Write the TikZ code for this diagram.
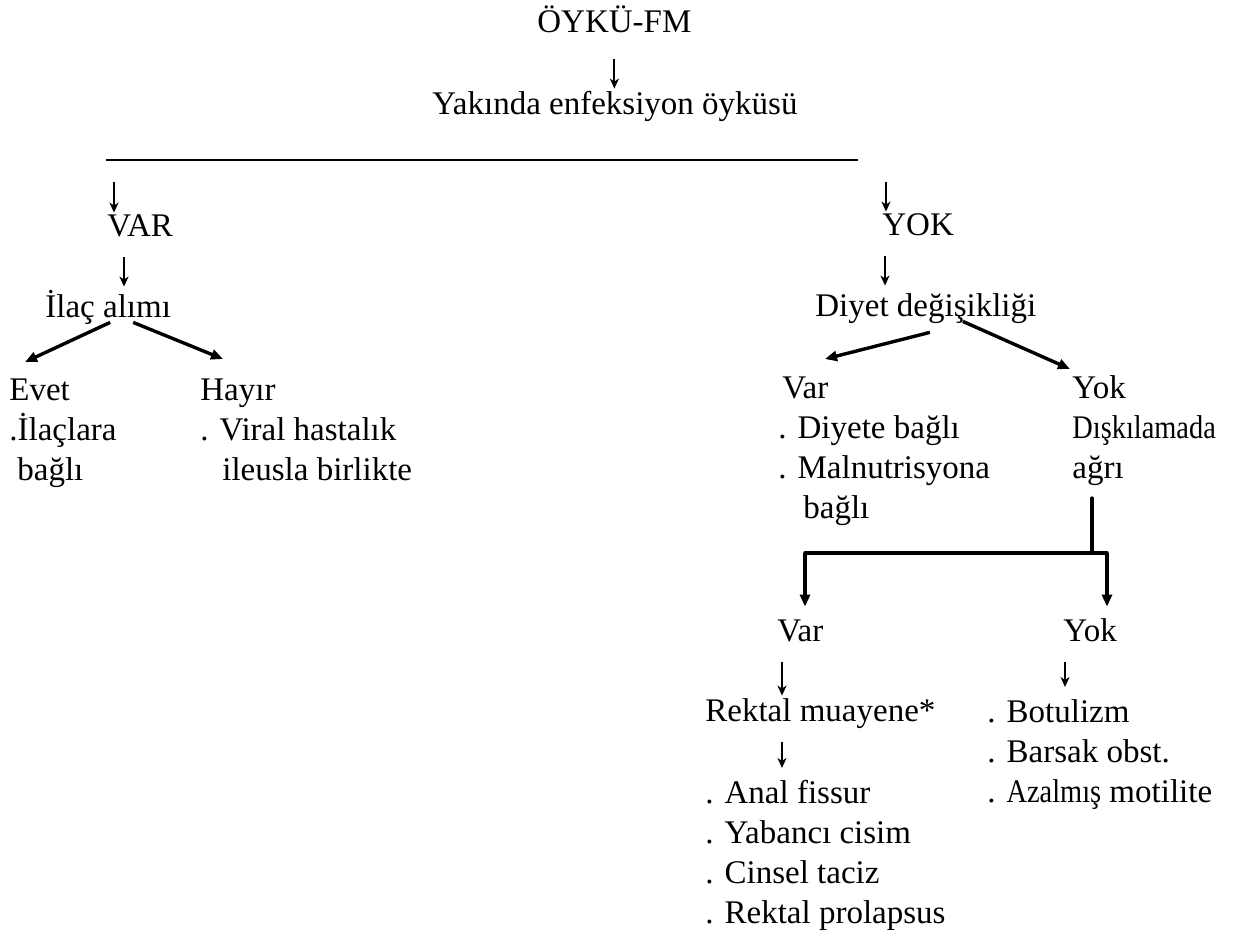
\documentclass[tikz,border=0pt]{standalone}
\usepackage{fontspec}
\setmainfont{Liberation Serif}
\usepackage{graphicx}
\usetikzlibrary{arrows.meta}
\newcommand{\narrow}[1]{\scalebox{0.86}[1]{#1}}
\newcommand{\topline}{\rule{0pt}{0.7em}}

\begin{document}
\begin{tikzpicture}[x=0.5pt,y=-0.5pt,
  every node/.style={font=\fontsize{16.5}{20}\selectfont, inner sep=0pt, anchor=base west, align=left},
  lbl/.style={text height=0.7em, text depth=0.2em},
  lst/.style={anchor=north west},
  down/.style={-{Stealth[length=5pt,width=4.5pt,inset=1.5pt]}, line width=1pt, shorten <=8pt, shorten >=6pt},
  branch/.style={-{Triangle[length=6pt,width=5pt]}, line width=1.7pt},
  bar/.style={line width=1.7pt, line cap=round}]

\useasboundingbox (0,0) rectangle (1233,940);

% top
\node[lbl] (oyku) at (537,33) {ÖYKÜ-FM};
\node[lbl] (yakin) at (432,115) {Yakında enfeksiyon öyküsü};
\draw[down, shorten <=11pt] (oyku.south) -- (oyku.south |- yakin.north);

\coordinate (hl) at (106,160);
\coordinate (hr) at (858,160);
\draw[line width=1pt] (hl) -- (hr);

% left branch
\node[lbl] (var) at (107,237) {VAR};
\node[lbl] (ilac) at (45,318) {İlaç alımı};
\node[lst] (evet) at (9,377) {\topline Evet\\.İlaçlara\\\hspace*{4pt}bağlı};
\node[lst] (hayir) at (200,377) {\topline Hayır\\. Viral hastalık\\\hspace*{11pt}ileusla birlikte};

\draw[down, shorten <=11pt, shorten >=5pt] ([xshift=3.5pt]var.north west |- hl) -- ([xshift=3.5pt]var.north west);
\draw[down, shorten >=8.5pt] ([xshift=8.5pt]var.south west) -- ([xshift=8.5pt]var.south west |- ilac.north);
\draw[branch] ([xshift=1pt]ilac.south) -- ([xshift=8pt,yshift=7.5pt]evet.north west);
\draw[branch] ([xshift=12.5pt]ilac.south) -- ([xshift=11.5pt,yshift=9pt]hayir.north west);

% right branch
\node[lbl] (yok) at (882,236) {YOK};
\node[lbl] (diyet) at (815,317) {Diyet değişikliği};
\node[lst] (var2) at (778,375) {\topline\hspace*{2pt}Var\\. Diyete bağlı\\. Malnutrisyona\\\hspace*{12.5pt}bağlı};
\node[lst] (yok2) at (1072,375) {\topline Yok\\\narrow{Dışkılamada}\\ağrı};

\draw[down, shorten <=11pt, shorten >=5pt] ([xshift=2pt]yok.north west |- hl) -- ([xshift=2pt]yok.north west);
\draw[down, shorten >=8.5pt] ([xshift=1.5pt]yok.south west) -- ([xshift=1.5pt]yok.south west |- diyet.north);
\draw[branch] ([xshift=2pt,yshift=-5.5pt]diyet.south) -- ([xshift=23.5pt,yshift=8pt]var2.north west);
\draw[branch] ([xshift=18.5pt]diyet.south) -- ([xshift=-1pt,yshift=3pt]yok2.north west);

% painful defecation
\coordinate (jl) at (805,553);
\coordinate (jr) at (1107,553);
\draw[bar] ([xshift=10pt,yshift=-6pt]yok2.south west) -- ([xshift=10pt]yok2.south west |- jl);
\draw[bar] (jl) -- (jr);

\node[lbl] (var3) at (777,642) {Var};
\node[lbl] (rektal) at (705,722) {Rektal muayene*};
\node[lst] (nedenA) at (705,780) {\topline . Anal fissur\\. Yabancı cisim\\. Cinsel taciz\\. Rektal prolapsus};
\node[lbl] (yok3) at (1063,642) {Yok};
\node[lst] (nedenB) at (987,699) {\topline . Botulizm\\. Barsak obst.\\. \narrow{Azalmış} motilite};

\draw[branch, shorten >=10.5pt] (jl) -- (jl |- var3.north);
\draw[branch, shorten >=10.5pt] (jr) -- (jr |- yok3.north);
\draw[down] ([xshift=2.5pt]var3.south west) -- ([xshift=2.5pt]var3.south west |- rektal.north);
\draw[down] ([xshift=38.5pt]rektal.south west) -- ([xshift=38.5pt]rektal.south west |- nedenA.north);
\draw[down] ([xshift=1pt]yok3.south west) -- ([xshift=1pt]yok3.south west |- nedenB.north);

\end{tikzpicture}
\end{document}
